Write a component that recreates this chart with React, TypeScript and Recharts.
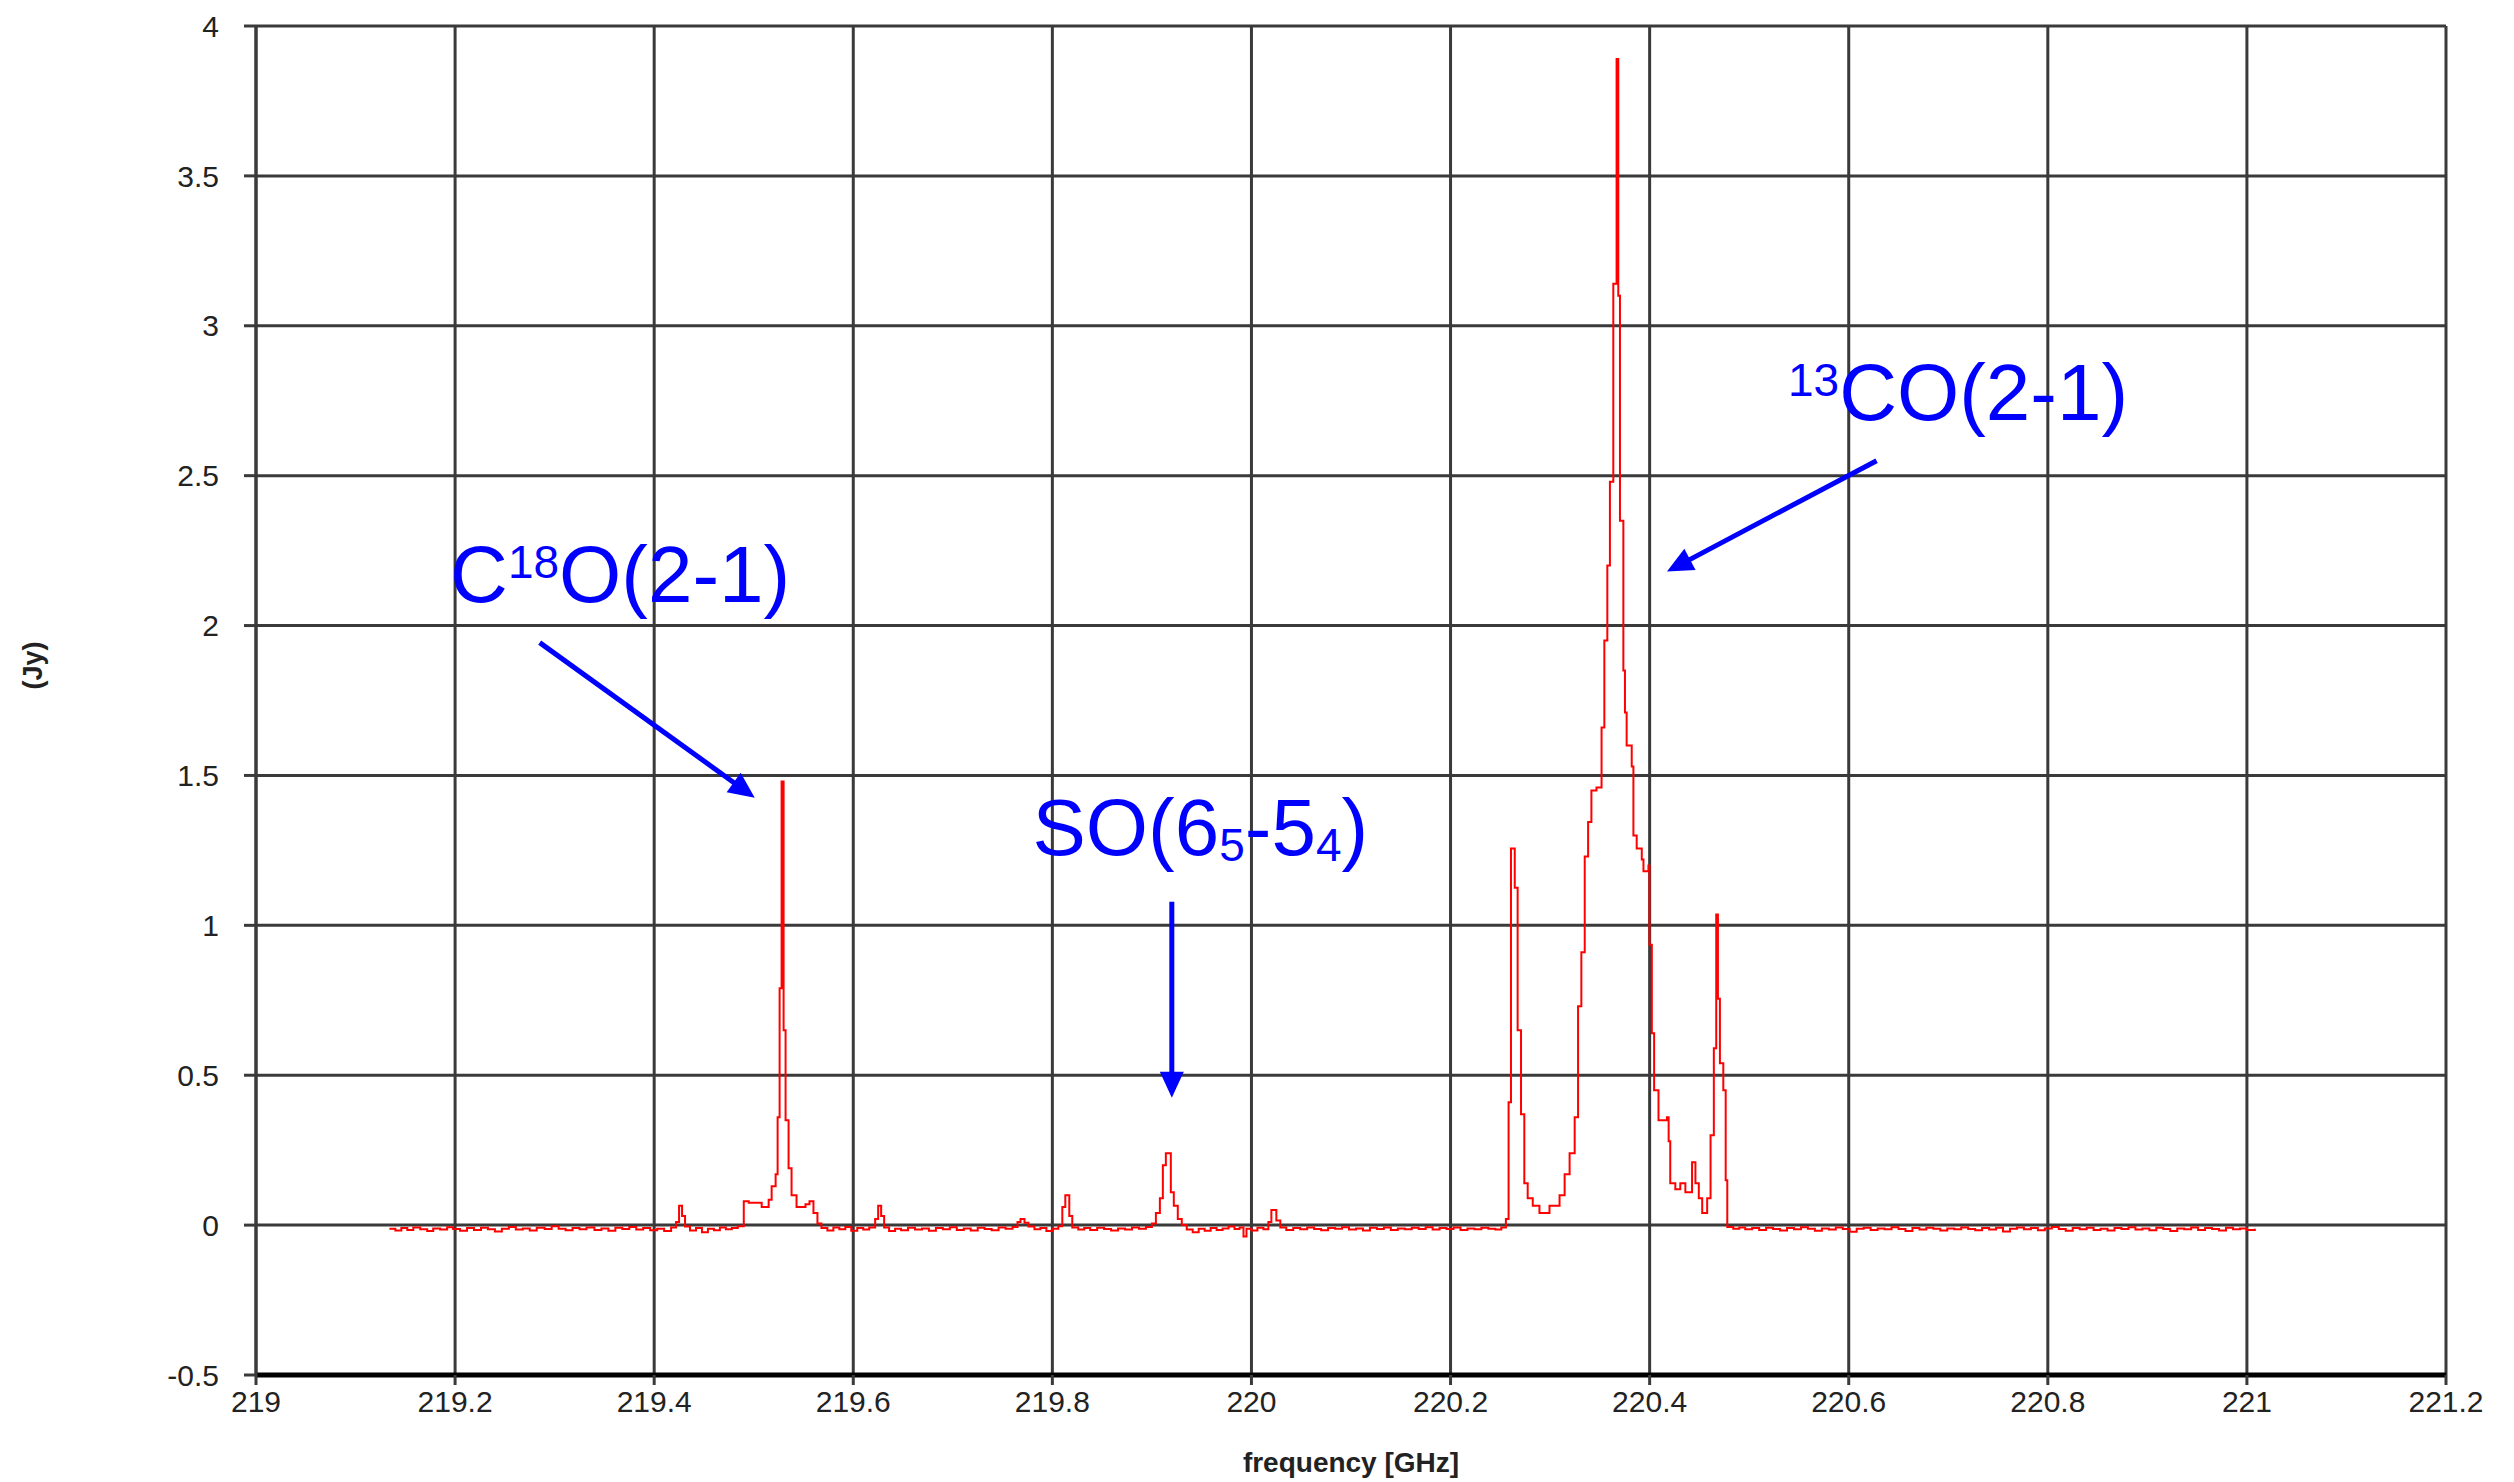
import { CartesianGrid, Label, Line, LineChart, ReferenceDot, ReferenceLine, XAxis, YAxis } from "recharts";

const FONT = '"Liberation Sans", Arial, Helvetica, sans-serif';
const BLUE = "#0000ff";

const freqTicks = [219, 219.2, 219.4, 219.6, 219.8, 220, 220.2, 220.4, 220.6, 220.8, 221, 221.2];
const fluxTicks = [-0.5, 0, 0.5, 1, 1.5, 2, 2.5, 3, 3.5, 4];

// [frequency GHz, flux Jy], one entry per step of the histogram
const baselineLow: [number, number][] = [
    [219.134, -0.012], [219.14, -0.018], [219.146, -0.01], [219.152, -0.016], [219.158, -0.008],
    [219.165, -0.014], [219.172, -0.02], [219.178, -0.011], [219.185, -0.015], [219.192, -0.007],
    [219.198, -0.013], [219.205, -0.019], [219.212, -0.01], [219.219, -0.016], [219.226, -0.009],
    [219.233, -0.014], [219.24, -0.021], [219.247, -0.012], [219.254, -0.006], [219.261, -0.015],
    [219.268, -0.011], [219.275, -0.018], [219.282, -0.009], [219.29, -0.013], [219.297, -0.004],
    [219.304, -0.012], [219.311, -0.017], [219.318, -0.01], [219.325, -0.014], [219.332, -0.008],
    [219.34, -0.016], [219.347, -0.011], [219.354, -0.019], [219.361, -0.009], [219.368, -0.013],
    [219.375, -0.006], [219.382, -0.015], [219.389, -0.01], [219.396, -0.017], [219.403, -0.012],
    [219.41, -0.02], [219.417, -0.008], [219.422, 0.01], [219.425, 0.065], [219.428, 0.03],
    [219.431, -0.005], [219.436, -0.018], [219.442, -0.01], [219.448, -0.024], [219.454, -0.012],
    [219.46, -0.017], [219.466, -0.008], [219.472, -0.014], [219.478, -0.01], [219.484, -0.004],
];

const c18oLine: [number, number][] = [
    [219.49, 0.08], [219.495, 0.075], [219.508, 0.06], [219.515, 0.085], [219.518, 0.13],
    [219.522, 0.17], [219.524, 0.36], [219.526, 0.79], [219.528, 1.48], [219.53, 0.65],
    [219.532, 0.35], [219.535, 0.19], [219.538, 0.1], [219.543, 0.06], [219.552, 0.07],
    [219.556, 0.08], [219.56, 0.04], [219.564, 0.005],
];

const baselineMid: [number, number][] = [
    [219.568, -0.01], [219.574, -0.018], [219.58, -0.008], [219.586, -0.014], [219.592, -0.006],
    [219.598, -0.019], [219.604, -0.01], [219.61, -0.015], [219.616, -0.008], [219.622, 0.02],
    [219.625, 0.065], [219.628, 0.03], [219.631, -0.008], [219.636, -0.02], [219.642, -0.012],
    [219.648, -0.017], [219.655, -0.009], [219.662, -0.015], [219.669, -0.011], [219.676, -0.019],
    [219.683, -0.01], [219.69, -0.014], [219.697, -0.007], [219.704, -0.016], [219.711, -0.011],
    [219.718, -0.018], [219.725, -0.009], [219.732, -0.013], [219.739, -0.017], [219.746, -0.008],
    [219.753, -0.012], [219.76, -0.006], [219.765, 0.01], [219.768, 0.02], [219.772, 0.008],
    [219.776, -0.005], [219.782, -0.014], [219.788, -0.01], [219.794, -0.02], [219.8, -0.012],
    [219.806, -0.004], [219.81, 0.06], [219.813, 0.1], [219.817, 0.03], [219.82, -0.008],
    [219.826, -0.015], [219.832, -0.01], [219.838, -0.016], [219.845, -0.009], [219.852, -0.013],
    [219.859, -0.018], [219.866, -0.011], [219.873, -0.015], [219.88, -0.008], [219.887, -0.012],
    [219.894, -0.006],
];

const soLine: [number, number][] = [
    [219.9, 0.005], [219.904, 0.04], [219.908, 0.09], [219.911, 0.2], [219.914, 0.24],
    [219.919, 0.11], [219.922, 0.065], [219.926, 0.02], [219.93, 0.0],
];

const baselineHigh: [number, number][] = [
    [219.935, -0.015], [219.941, -0.024], [219.947, -0.012], [219.953, -0.019], [219.959, -0.01],
    [219.965, -0.016], [219.971, -0.011], [219.977, -0.005], [219.983, -0.013], [219.988, -0.008],
    [219.992, -0.038], [219.995, -0.012], [220.0, -0.018], [220.006, -0.009], [220.012, -0.014],
    [220.017, 0.01], [220.02, 0.05], [220.025, 0.015], [220.029, -0.008], [220.035, -0.016],
    [220.042, -0.01], [220.049, -0.014], [220.056, -0.008], [220.063, -0.013], [220.07, -0.017],
    [220.077, -0.01], [220.084, -0.012], [220.091, -0.007], [220.098, -0.015], [220.105, -0.011],
    [220.112, -0.018], [220.119, -0.009], [220.126, -0.013], [220.133, -0.008], [220.14, -0.016],
    [220.147, -0.011], [220.154, -0.014], [220.161, -0.009], [220.168, -0.013], [220.175, -0.007],
    [220.182, -0.015], [220.189, -0.01], [220.196, -0.013], [220.203, -0.008], [220.21, -0.016],
    [220.217, -0.011], [220.224, -0.014], [220.231, -0.009], [220.238, -0.012], [220.245, -0.015],
    [220.251, -0.008],
];

const co13Band: [number, number][] = [
    [220.2556, 0.02], [220.2583, 0.41], [220.2607, 1.256], [220.2645, 1.125], [220.2674, 0.65],
    [220.2708, 0.37], [220.2741, 0.14], [220.2775, 0.09], [220.2826, 0.065], [220.2893, 0.04],
    [220.2994, 0.065], [220.3095, 0.1], [220.3146, 0.17], [220.3196, 0.24], [220.3247, 0.36],
    [220.3281, 0.73], [220.3314, 0.91], [220.3348, 1.23], [220.3382, 1.345], [220.3415, 1.45],
    [220.3466, 1.46], [220.3517, 1.66], [220.3545, 1.95], [220.3575, 2.2], [220.3601, 2.48],
    [220.3635, 3.14], [220.3668, 3.89], [220.3685, 3.1], [220.3702, 2.35], [220.3736, 1.85],
    [220.3752, 1.71], [220.3769, 1.6], [220.382, 1.53], [220.3837, 1.3], [220.387, 1.256],
    [220.3921, 1.22], [220.3938, 1.18], [220.3988, 1.2], [220.3998, 0.935], [220.4022, 0.64],
    [220.4045, 0.45], [220.4089, 0.35], [220.4174, 0.36], [220.4191, 0.28], [220.4207, 0.14],
    [220.4258, 0.12], [220.4308, 0.14], [220.4359, 0.11], [220.4426, 0.21], [220.446, 0.14],
    [220.4494, 0.09], [220.4528, 0.04], [220.4578, 0.09], [220.4612, 0.3], [220.4645, 0.59],
    [220.4669, 1.036], [220.4686, 0.755], [220.4706, 0.54], [220.474, 0.45], [220.4764, 0.15],
    [220.478, -0.006],
];

const baselineTail: [number, number][] = [
    [220.484, -0.012], [220.49, -0.008], [220.496, -0.014], [220.503, -0.01], [220.51, -0.016],
    [220.517, -0.009], [220.524, -0.013], [220.531, -0.018], [220.538, -0.01], [220.545, -0.014],
    [220.552, -0.007], [220.559, -0.012], [220.566, -0.019], [220.573, -0.011], [220.58, -0.015],
    [220.587, -0.008], [220.594, -0.013], [220.601, -0.022], [220.608, -0.012], [220.615, -0.009],
    [220.622, -0.016], [220.629, -0.011], [220.636, -0.014], [220.643, -0.007], [220.65, -0.013],
    [220.657, -0.02], [220.664, -0.01], [220.671, -0.015], [220.678, -0.009], [220.685, -0.012],
    [220.692, -0.018], [220.699, -0.011], [220.706, -0.014], [220.713, -0.008], [220.72, -0.013],
    [220.727, -0.017], [220.734, -0.01], [220.741, -0.015], [220.748, -0.009], [220.755, -0.021],
    [220.762, -0.012], [220.769, -0.008], [220.776, -0.014], [220.783, -0.01], [220.79, -0.017],
    [220.797, -0.011], [220.804, -0.006], [220.811, -0.013], [220.818, -0.019], [220.825, -0.01],
    [220.832, -0.014], [220.839, -0.009], [220.846, -0.016], [220.853, -0.012], [220.86, -0.018],
    [220.867, -0.01], [220.874, -0.013], [220.881, -0.007], [220.888, -0.015], [220.895, -0.011],
    [220.902, -0.017], [220.909, -0.009], [220.916, -0.013], [220.923, -0.02], [220.93, -0.011],
    [220.937, -0.014], [220.944, -0.008], [220.951, -0.016], [220.958, -0.01], [220.965, -0.013],
    [220.972, -0.018], [220.979, -0.009], [220.986, -0.014], [220.993, -0.011], [221.0, -0.016],
    [221.008, -0.012],
];

const spectrum = [
    ...baselineLow, ...c18oLine, ...baselineMid, ...soLine, ...baselineHigh, ...co13Band, ...baselineTail,
].map(([freq, flux]) => ({ freq, flux }));

// annotation anchors, in data units (freq, flux)
const c18oText = { x: 219.195, y: 2.08 };
const c18oArrow = [{ x: 219.285, y: 1.943 }, { x: 219.501, y: 1.426 }];
const soText = { x: 219.78, y: 1.236 };
const soArrow = [{ x: 219.92, y: 1.079 }, { x: 219.92, y: 0.425 }];
const co13Text = { x: 220.539, y: 2.687 };
const co13Arrow = [{ x: 220.628, y: 2.55 }, { x: 220.4174, y: 2.18 }];

const Arrow = (props: any) => {
    const { x1, y1, x2, y2 } = props;
    if ([x1, y1, x2, y2].some((v) => typeof v !== "number" || isNaN(v))) return null;
    const len = Math.hypot(x2 - x1, y2 - y1) || 1;
    const ux = (x2 - x1) / len;
    const uy = (y2 - y1) / len;
    const head = 26;
    const half = 12;
    const bx = x2 - ux * head;
    const by = y2 - uy * head;
    return (
        <g>
            <line x1={x1} y1={y1} x2={bx + ux * 3} y2={by + uy * 3} stroke={BLUE} strokeWidth={5} />
            <polygon
                points={`${x2},${y2} ${bx - uy * half},${by + ux * half} ${bx + uy * half},${by - ux * half}`}
                fill={BLUE}
            />
        </g>
    );
};

const textStyle = { fill: BLUE, fontFamily: FONT, fontSize: 80 };

const C18OLabel = (p: any) => (
    <text x={p.cx} y={p.cy} {...textStyle}>
        C<tspan fontSize={46} dy={-24}>18</tspan>
        <tspan dy={24}>O(2-1)</tspan>
    </text>
);

const SOLabel = (p: any) => (
    <text x={p.cx} y={p.cy} {...textStyle}>
        SO(6<tspan fontSize={46} dy={6}>5</tspan>
        <tspan dy={-6}>-5</tspan>
        <tspan fontSize={46} dy={6}>4</tspan>
        <tspan dy={-6}>)</tspan>
    </text>
);

const CO13Label = (p: any) => (
    <text x={p.cx} y={p.cy} {...textStyle}>
        <tspan fontSize={46} dy={-24}>13</tspan>
        <tspan dy={24}>CO(2-1)</tspan>
    </text>
);

const tickStyle = { fill: "#222", fontSize: 30, fontFamily: FONT };
const gridColor = "#3a3a3a";

export default function App() {
    return (
        <>
            <style>{"body{margin:0;overflow:hidden;background:#fff}"}</style>
            <LineChart
                width={2514}
                height={1482}
                data={spectrum}
                margin={{ top: 26, right: 68, bottom: 7, left: 0 }}
            >
                <CartesianGrid stroke={gridColor} strokeWidth={3} />
                <XAxis
                    dataKey="freq"
                    type="number"
                    domain={[219, 221.2]}
                    ticks={freqTicks}
                    interval={0}
                    height={100}
                    tick={tickStyle}
                    tickSize={10}
                    tickMargin={6}
                    axisLine={{ stroke: "#000", strokeWidth: 5 }}
                    tickLine={{ stroke: gridColor, strokeWidth: 3 }}
                >
                    <Label
                        content={({ viewBox }: any) => (
                            <text
                                x={viewBox.x + viewBox.width / 2}
                                y={viewBox.y + 87}
                                textAnchor="middle"
                                dominantBaseline="central"
                                fontFamily={FONT}
                                fontWeight="bold"
                                fontSize={28}
                                fill="#222"
                            >
                                frequency [GHz]
                            </text>
                        )}
                    />
                </XAxis>
                <YAxis
                    type="number"
                    domain={[-0.5, 4]}
                    ticks={fluxTicks}
                    interval={0}
                    width={256}
                    tick={tickStyle}
                    tickSize={12}
                    tickMargin={25}
                    axisLine={{ stroke: gridColor, strokeWidth: 3 }}
                    tickLine={{ stroke: gridColor, strokeWidth: 3 }}
                >
                    <Label
                        content={({ viewBox }: any) => {
                            const cx = viewBox.x + 33;
                            const cy = viewBox.y + viewBox.height / 2 - 35;
                            return (
                                <text
                                    x={cx}
                                    y={cy}
                                    transform={`rotate(-90 ${cx} ${cy})`}
                                    textAnchor="middle"
                                    dominantBaseline="central"
                                    fontFamily={FONT}
                                    fontWeight="bold"
                                    fontSize={27}
                                    fill="#222"
                                >
                                    (Jy)
                                </text>
                            );
                        }}
                    />
                </YAxis>
                <Line
                    type="stepAfter"
                    dataKey="flux"
                    stroke="#ff0000"
                    strokeWidth={2}
                    dot={false}
                    activeDot={false}
                    isAnimationActive={false}
                />
                <ReferenceLine segment={c18oArrow} shape={Arrow} />
                <ReferenceLine segment={soArrow} shape={Arrow} />
                <ReferenceLine segment={co13Arrow} shape={Arrow} />
                <ReferenceDot x={c18oText.x} y={c18oText.y} r={0} shape={C18OLabel} />
                <ReferenceDot x={soText.x} y={soText.y} r={0} shape={SOLabel} />
                <ReferenceDot x={co13Text.x} y={co13Text.y} r={0} shape={CO13Label} />
            </LineChart>
        </>
    );
}
